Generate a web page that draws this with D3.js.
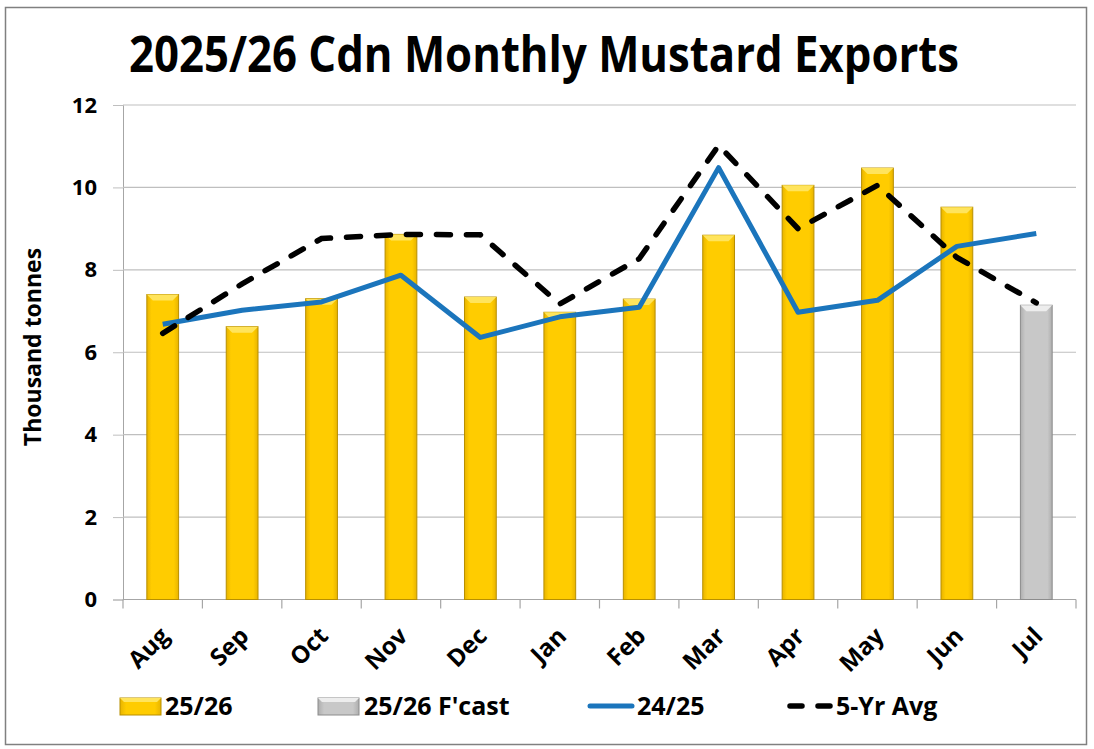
<!DOCTYPE html>
<html>
<head>
<meta charset="utf-8">
<script src="https://cdn.jsdelivr.net/npm/d3@7"></script>
<style>
  body { margin: 0; background: #fff; }
  svg { display: block; }
  text { font-family: "Open Sans", "Noto Sans", sans-serif; font-weight: bold; fill: #000; }
</style>
</head>
<body>
<svg id="chart" width="1094" height="749"></svg>
<script>
const months = ["Aug","Sep","Oct","Nov","Dec","Jan","Feb","Mar","Apr","May","Jun","Jul"];
const exports2526 = [7.40, 6.62, 7.30, 8.86, 7.34, 6.97, 7.29, 8.84, 10.05, 10.47, 9.52, null];
const forecast2526 = [null, null, null, null, null, null, null, null, null, null, null, 7.14];
const exports2425 = [6.68, 7.02, 7.22, 7.87, 6.36, 6.86, 7.09, 10.48, 6.97, 7.26, 8.57, 8.88];
const avg5yr = [6.46, 7.66, 8.76, 8.86, 8.85, 7.17, 8.27, 11.02, 9.00, 10.05, 8.30, 7.20];
const yTicks = [0, 2, 4, 6, 8, 10, 12];
const title = "2025/26 Cdn Monthly Mustard Exports";
const yLabel = "Thousand tonnes";
const legendItems = ["25/26", "25/26 F'cast", "24/25", "5-Yr Avg"];

const svg = d3.select("#chart");
const W = 1094, H = 749;
const plot = {left: 123, right: 1076, top: 105, bottom: 599.5};

svg.append("rect").attr("x", 0).attr("y", 0).attr("width", W).attr("height", H).attr("fill", "#fff");
svg.append("rect").attr("x", 5.5).attr("y", 7.5).attr("width", 1081).attr("height", 737)
  .attr("fill", "none").attr("stroke", "#808080").attr("stroke-width", 1.5);

const defs = svg.append("defs");
function hGrad(id, stops) {
  const g = defs.append("linearGradient").attr("id", id).attr("x1", "0%").attr("x2", "100%").attr("y1", "0%").attr("y2", "0%");
  stops.forEach(s => g.append("stop").attr("offset", s[0]).attr("stop-color", s[1]));
}
hGrad("gYellow", [["0%", "#E8B400"], ["15%", "#FFCC00"], ["85%", "#FFCC00"], ["100%", "#E8B400"]]);
hGrad("gGray", [["0%", "#AEAEAE"], ["15%", "#C8C8C8"], ["85%", "#C8C8C8"], ["100%", "#AEAEAE"]]);

const x = d3.scaleBand().domain(months).range([plot.left, plot.right]).paddingInner(0.6).paddingOuter(0.3);
const y = d3.scaleLinear().domain([0, 12]).range([plot.bottom, plot.top]);
const cx = m => x(m) + x.bandwidth() / 2;

// y axis, ticks and gridlines
const yAxis = d3.axisLeft(y).tickValues(yTicks).tickSize(10).tickPadding(16);
const gy = svg.append("g").attr("transform", `translate(${plot.left},0)`).call(yAxis);
gy.select(".domain").attr("stroke", "#A6A6A6");
gy.selectAll(".tick line").attr("stroke", "#BFBFBF");
gy.selectAll(".tick text").attr("font-size", 22).attr("font-family", "'Open Sans', sans-serif").attr("font-weight", "bold").attr("fill", "#000");
svg.append("g").selectAll("line").data(yTicks.filter(t => t > 0)).join("line")
  .attr("x1", plot.left).attr("x2", plot.right)
  .attr("y1", d => y(d)).attr("y2", d => y(d))
  .attr("stroke", "#BFBFBF").attr("stroke-width", 1.2);

// x axis
const step = x.step();
const gx = svg.append("g").attr("transform", `translate(0,${plot.bottom})`);
gx.append("line").attr("x1", plot.left).attr("x2", plot.right).attr("stroke", "#A6A6A6").attr("stroke-width", 1.2);
gx.selectAll("line.tk").data(d3.range(months.length + 1)).join("line").attr("class", "tk")
  .attr("x1", i => plot.left + i * step).attr("x2", i => plot.left + i * step)
  .attr("y1", 0).attr("y2", 9).attr("stroke", "#A6A6A6").attr("stroke-width", 1.2);
gx.selectAll("text").data(months).join("text")
  .attr("transform", m => `translate(${cx(m) + 8},${38}) rotate(-45)`)
  .attr("text-anchor", "end").attr("font-size", 24).text(m => m);

// bars
function bevelBar(g, m, v, fill, top, edge) {
  const bx = x(m), bw = x.bandwidth(), by = y(v), bh = y(0) - y(v);
  g.append("rect").attr("x", bx).attr("y", by).attr("width", bw).attr("height", bh)
    .attr("fill", fill).attr("stroke", edge).attr("stroke-width", 1);
  const b = 6;
  g.append("path")
    .attr("d", `M${bx},${by} L${bx + bw},${by} L${bx + bw - b},${by + b} L${bx + b},${by + b} Z`)
    .attr("fill", top);
}
const bars = svg.append("g");
months.forEach((m, i) => {
  if (exports2526[i] != null) bevelBar(bars, m, exports2526[i], "url(#gYellow)", "#FFE45C", "#B88F00");
  if (forecast2526[i] != null) bevelBar(bars, m, forecast2526[i], "url(#gGray)", "#EDEDED", "#8C8C8C");
});

// lines
const line = d3.line().x((d, i) => cx(months[i])).y(d => y(d));
svg.append("path").datum(exports2425).attr("d", line)
  .attr("fill", "none").attr("stroke", "#1B75BC").attr("stroke-width", 5).attr("stroke-linejoin", "round");
svg.append("path").datum(avg5yr).attr("d", line)
  .attr("fill", "none").attr("stroke", "#000").attr("stroke-width", 5.5)
  .attr("stroke-dasharray", "14,16").attr("stroke-linecap", "round");

// title
svg.append("text").attr("x", 544).attr("y", 72).attr("text-anchor", "middle")
  .attr("font-size", 50).attr("textLength", 830).attr("lengthAdjust", "spacingAndGlyphs").text(title);

// y label
svg.append("text").attr("transform", "translate(41,347) rotate(-90)").attr("text-anchor", "middle")
  .attr("font-size", 23).text(yLabel);

// legend
const lg = svg.append("g");
const ly = 715;
function swatch(xp, fill, top, edge) {
  lg.append("rect").attr("x", xp).attr("y", ly - 17).attr("width", 41).attr("height", 17)
    .attr("fill", fill).attr("stroke", edge);
  lg.append("path").attr("d", `M${xp},${ly - 17} L${xp + 41},${ly - 17} L${xp + 37},${ly - 13} L${xp + 4},${ly - 13} Z`).attr("fill", top);
}
swatch(120, "url(#gYellow)", "#FFE45C", "#B88F00");
lg.append("text").attr("x", 165).attr("y", ly).attr("font-size", 25).text(legendItems[0]);
swatch(318, "url(#gGray)", "#EDEDED", "#8C8C8C");
lg.append("text").attr("x", 364).attr("y", ly).attr("font-size", 25).text(legendItems[1]);
lg.append("line").attr("x1", 590).attr("x2", 632).attr("y1", ly - 9).attr("y2", ly - 9)
  .attr("stroke", "#1B75BC").attr("stroke-width", 5).attr("stroke-linecap", "round");
lg.append("text").attr("x", 637).attr("y", ly).attr("font-size", 25).text(legendItems[2]);
lg.append("line").attr("x1", 790).attr("x2", 831).attr("y1", ly - 9).attr("y2", ly - 9)
  .attr("stroke", "#000").attr("stroke-width", 5.5).attr("stroke-dasharray", "12,16").attr("stroke-linecap", "round");
lg.append("text").attr("x", 836).attr("y", ly).attr("font-size", 25).text(legendItems[3]);
</script>
</body>
</html>
